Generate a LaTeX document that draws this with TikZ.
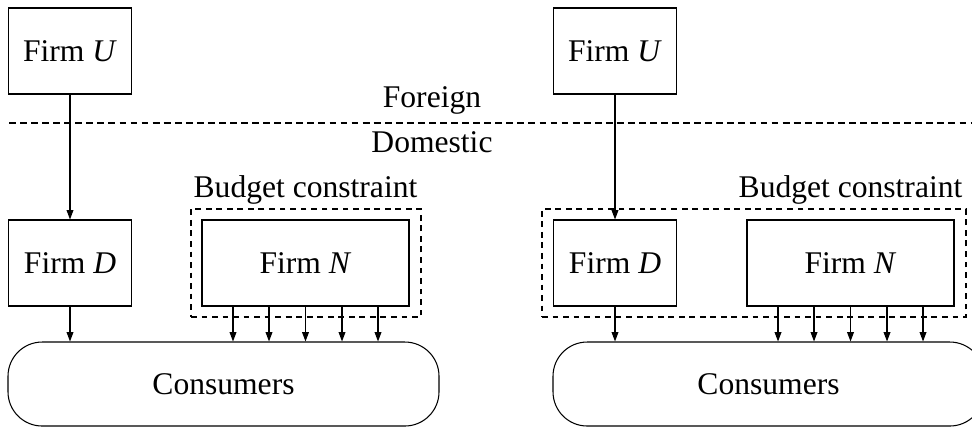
\documentclass[tikz,border=0pt]{standalone}
\usepackage{fontspec}
\setmainfont{Liberation Serif}
\usetikzlibrary{arrows.meta,calc}
\tikzstyle{firm}=[draw,minimum width=123*0.38pt,minimum height=86*0.38pt,inner sep=0pt]
\tikzstyle{widefirm}=[firm,minimum width=207*0.38pt]
\tikzstyle{market}=[draw,rounded corners=13pt,minimum width=431*0.38pt,minimum height=84*0.38pt,inner sep=0pt]
\tikzstyle{budget}=[draw,dash pattern=on 2.2pt off 1.8pt,minimum height=108*0.38pt,inner sep=0pt]
\tikzstyle{edge}=[draw,-{Triangle[length=3.6pt,width=2.6pt]}]
\tikzstyle{border}=[draw,line width=0.5pt,dash pattern=on 2.6pt off 1.6pt]
\tikzstyle{label}=[anchor=base,inner sep=0pt]

\begin{document}
\begin{tikzpicture}[x=0.38pt,y=-0.38pt,font=\fontsize{12}{14}\selectfont]
\useasboundingbox (0,0) rectangle (972,427);

% border between the two countries
\coordinate (west) at (9,123);
\coordinate (east) at (972,123);
\path[border] (west) -- (east);
\node[label] (foreign) at (432,107) {Foreign};
\node[label] (domestic) at (432,152) {Domestic};

% budget constraint boxes
\node[budget,minimum width=230*0.38pt] (bgL) at (306,263) {};
\node[budget,minimum width=424*0.38pt] (bgR) at (754,263) {};

% the two panels
\foreach \ox/\p in {0/L,545/R} {
    \node[firm] (u\p) at (70+\ox,51) {Firm \textit{U}};
    \node[firm] (d\p) at (70+\ox,263) {Firm \textit{D}};
    \node[widefirm] (n\p) at (305.5+\ox,263) {Firm \textit{N}};
    \node[market] (c\p) at (223.5+\ox,384) {Consumers};
    \node[label] (bl\p) at (305.5+\ox,197) {Budget constraint};
    \path[edge] (u\p) -- (d\p);
    \path[edge] (d\p) -- (d\p |- c\p.north);
    \foreach \dx in {-72.5,-36.5,0,36.5,72.5}
        \path[edge] ([xshift=\dx*0.38pt]n\p.south) -- ([xshift=\dx*0.38pt]n\p.south |- c\p.north);
}

\end{tikzpicture}
\end{document}
